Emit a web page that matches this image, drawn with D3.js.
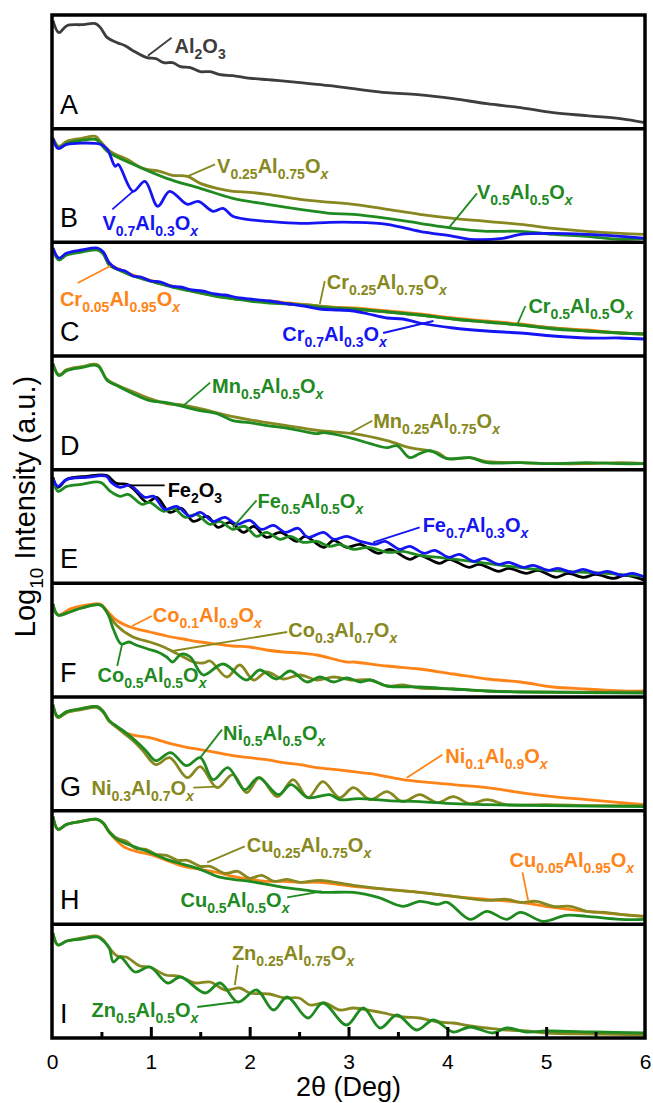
<!DOCTYPE html>
<html>
<head>
<meta charset="utf-8">
<script src="https://cdn.jsdelivr.net/npm/d3@7"></script>
<style>
body{margin:0;background:#fff}
text{font-family:"Liberation Sans",Arial,sans-serif}
</style>
</head>
<body>
<svg id="chart" width="653" height="1103"></svg>
<script>
// ---- data: [2theta (deg), log intensity (a.u., height above panel floor)] ----
const al2o3 = [[0.01,108],[0.07,96],[0.15,103],[0.30,104],[0.44,105],[0.49,101],[0.56,91],[0.66,86],[0.74,83],[0.82,78],[0.96,71],[1.05,70],[1.13,66],[1.22,66],[1.30,62],[1.40,61],[1.50,57],[1.60,57],[1.70,54],[1.83,53],[1.95,51],[2.05,50],[2.18,49],[2.30,48],[2.51,46],[2.81,43],[3.05,40],[3.39,36],[3.70,34],[4.06,30],[4.40,25],[4.74,21],[5.07,16],[5.41,13],[5.75,10],[6.0,6]];

const v25 = [[0.01,104],[0.07,96],[0.15,101],[0.30,104],[0.44,106],[0.49,101],[0.59,91],[0.76,83],[0.92,74],[1.09,71],[1.22,67],[1.37,66],[1.50,59],[1.67,54],[1.83,51],[2.00,50],[2.18,48],[2.51,43],[2.71,41],[3.05,38],[3.39,33],[3.72,28],[4.06,24],[4.40,21],[4.74,18],[5.07,14],[5.41,11],[5.75,9],[6.0,8]];
const v50 = [[0.01,104],[0.07,94],[0.15,99],[0.30,102],[0.44,103],[0.49,99],[0.56,91],[0.82,78],[1.16,64],[1.50,54],[1.83,44],[2.18,38],[2.51,33],[2.81,29],[3.05,28],[3.39,24],[3.72,19],[4.06,14],[4.40,11],[4.74,11],[5.07,8],[5.41,6],[5.75,3],[6.0,4]];
const v70 = [[0.01,104],[0.06,94],[0.15,98],[0.44,99],[0.49,98],[0.56,93],[0.64,76],[0.67,78],[0.82,51],[0.94,61],[1.07,36],[1.19,51],[1.37,38],[1.48,41],[1.63,31],[1.73,34],[1.83,26],[1.97,23],[2.18,21],[2.51,19],[2.81,20],[3.05,20],[3.39,18],[3.72,11],[4.06,6],[4.23,3],[4.56,4],[4.74,8],[5.07,9],[5.41,8],[5.75,6],[6.0,4]];

const cr05 = [[0.01,107],[0.07,97],[0.15,102],[0.30,105],[0.46,107],[0.52,103],[0.58,92],[0.70,86],[0.82,81],[0.95,77],[1.10,73],[1.25,69],[1.40,66],[1.55,63],[1.70,60],[1.85,58],[2.00,56],[2.20,55],[2.40,53],[2.60,51],[2.80,49],[3.05,48],[3.40,45],[3.72,42],[4.06,38],[4.40,35],[4.74,32],[5.07,28],[5.41,26],[5.75,23],[6.0,22]];
const cr25 = [[0.01,107],[0.07,97],[0.15,102],[0.30,105],[0.46,106],[0.52,102],[0.58,91],[0.70,85],[0.82,80],[0.95,77],[1.10,72],[1.25,69],[1.40,65],[1.55,62],[1.70,60],[1.85,57],[2.00,56],[2.20,54],[2.40,52],[2.60,51],[2.80,49],[3.05,47],[3.40,44],[3.72,41],[4.06,37],[4.40,34],[4.74,31],[5.07,28],[5.41,25],[5.75,23],[6.0,22]];
const cr50 = [[0.01,106],[0.07,96],[0.15,101],[0.30,104],[0.46,106],[0.52,102],[0.58,91],[0.70,85],[0.82,80],[0.95,76],[1.10,72],[1.25,68],[1.40,65],[1.55,62],[1.70,59],[1.85,57],[2.00,55],[2.20,53],[2.40,52],[2.60,50],[2.80,48],[3.05,47],[3.40,44],[3.72,41],[4.06,37],[4.40,34],[4.74,31],[5.07,27],[5.41,25],[5.75,23],[6.0,22]];
const cr70 = [[0.01,108],[0.07,98],[0.15,103],[0.30,106],[0.46,108],[0.52,104],[0.58,93],[0.66,87],[0.74,85],[0.82,80],[0.90,79],[1.00,75],[1.10,74],[1.20,70],[1.30,69],[1.42,66],[1.52,65],[1.65,62],[1.75,61],[1.90,58],[2.00,57],[2.20,55],[2.40,52],[2.55,50],[2.71,47],[2.90,46],[3.05,45],[3.20,42],[3.39,38],[3.55,37],[3.72,33],[4.06,28],[4.40,25],[4.74,23],[5.07,20],[5.41,18],[5.75,18],[6.0,17]];

const mn25 = [[0.01,106],[0.07,95],[0.15,100],[0.30,103],[0.46,105],[0.56,90],[0.82,78],[0.99,71],[1.16,66],[1.30,65],[1.50,61],[1.83,53],[2.18,47],[2.51,42],[2.71,39],[3.05,36],[3.39,29],[3.62,22],[3.90,17],[4.00,11],[4.23,12],[4.40,8],[4.74,7],[5.07,6],[5.41,6],[5.75,7],[6.0,6]];
const mn50 = [[0.01,106],[0.07,94],[0.15,99],[0.30,102],[0.46,104],[0.56,89],[0.66,84],[0.82,76],[0.99,69],[1.16,67],[1.37,62],[1.50,59],[1.67,56],[1.83,49],[2.00,47],[2.18,44],[2.34,42],[2.51,39],[2.68,36],[2.75,37],[3.05,31],[3.22,26],[3.39,22],[3.49,24],[3.62,12],[3.72,16],[3.82,19],[4.00,11],[4.23,12],[4.40,7],[4.74,7],[5.07,6],[5.41,7],[5.75,6],[6.0,6]];

const fe2o3 = [[0.01,106],[0.06,96],[0.15,104],[0.35,107],[0.55,108],[0.65,100],[0.76,99],[0.84,93],[0.96,81],[1.06,86],[1.19,71],[1.31,75],[1.43,62],[1.57,67],[1.68,56],[1.80,61],[1.94,51],[2.04,57],[2.17,46],[2.31,51],[2.48,42],[2.56,47],[2.75,36],[2.85,43],[2.98,36],[3.12,39],[3.30,30],[3.42,34],[3.62,24],[3.72,28],[3.92,20],[4.02,24],[4.22,16],[4.32,19],[4.52,12],[4.62,15],[4.80,10],[4.92,13],[5.10,6],[5.22,10],[5.38,6],[5.50,9],[5.68,5],[5.80,8],[6.0,3]];
const fe50 = [[0.01,104],[0.06,92],[0.15,97],[0.30,99],[0.49,101],[0.59,92],[0.69,87],[0.77,89],[0.91,79],[0.99,81],[1.13,72],[1.23,75],[1.35,66],[1.46,69],[1.60,59],[1.70,62],[1.83,54],[1.95,57],[2.07,47],[2.17,51],[2.31,44],[2.41,47],[2.54,41],[2.68,42],[2.81,37],[2.91,39],[3.05,34],[3.20,36],[3.40,31],[3.55,32],[3.72,28],[4.00,25],[4.40,20],[4.80,15],[5.20,12],[5.60,10],[6.0,7]];
const fe70 = [[0.01,104],[0.06,97],[0.15,104],[0.35,106],[0.55,107],[0.60,101],[0.69,96],[0.79,98],[0.94,86],[1.03,87],[1.14,74],[1.26,77],[1.40,67],[1.50,71],[1.63,62],[1.75,66],[1.87,59],[2.00,63],[2.12,54],[2.24,58],[2.36,51],[2.49,55],[2.59,46],[2.75,51],[2.85,44],[2.98,47],[3.12,42],[3.27,39],[3.37,42],[3.52,34],[3.62,37],[3.77,30],[3.87,33],[4.02,26],[4.12,29],[4.27,22],[4.37,25],[4.52,19],[4.62,21],[4.77,16],[4.87,18],[5.02,13],[5.12,15],[5.27,11],[5.37,14],[5.52,10],[5.62,12],[5.77,8],[5.87,10],[6.0,6]];

const co10 = [[0.01,93],[0.06,82],[0.18,88],[0.30,91],[0.49,93],[0.55,87],[0.65,77],[0.79,70],[0.99,65],[1.16,61],[1.33,58],[1.50,55],[1.67,53],[1.83,51],[2.00,50],[2.17,47],[2.34,45],[2.51,44],[2.68,42],[2.98,35],[3.05,35],[3.39,31],[3.72,28],[4.06,23],[4.40,18],[4.74,15],[5.07,10],[5.41,8],[5.75,6],[6.0,6]];
const co30 = [[0.01,93],[0.06,82],[0.18,85],[0.30,89],[0.49,92],[0.57,83],[0.65,72],[0.82,60],[0.99,55],[1.13,50],[1.23,45],[1.33,40],[1.43,35],[1.53,34],[1.60,36],[1.77,20],[1.90,32],[2.04,17],[2.17,25],[2.34,18],[2.51,22],[2.68,17],[2.85,20],[3.02,17],[3.22,17],[3.39,11],[3.55,12],[3.72,9],[4.06,8],[4.40,6],[5.0,5],[6.0,5]];
const co50 = [[0.01,93],[0.06,82],[0.18,85],[0.30,89],[0.49,92],[0.57,82],[0.62,68],[0.70,53],[0.78,55],[0.85,52],[0.97,48],[1.07,45],[1.16,40],[1.22,35],[1.31,43],[1.40,40],[1.53,22],[1.73,33],[1.97,17],[2.10,27],[2.27,18],[2.41,26],[2.58,15],[2.71,20],[2.85,15],[2.98,19],[3.12,15],[3.22,17],[3.39,11],[3.72,10],[4.06,8],[4.40,6],[4.74,5],[6.0,4]];

const ni10 = [[0.01,106],[0.06,94],[0.15,99],[0.30,102],[0.46,104],[0.52,99],[0.58,90],[0.72,79],[0.85,75],[0.99,73],[1.16,68],[1.33,64],[1.50,61],[1.67,58],[1.83,55],[2.00,53],[2.17,51],[2.34,48],[2.51,46],[2.68,43],[2.88,41],[3.05,39],[3.22,37],[3.39,34],[3.55,31],[3.72,29],[4.06,26],[4.40,23],[4.74,18],[5.07,14],[5.41,11],[5.75,8],[6.0,6]];
const ni30 = [[0.01,105],[0.06,93],[0.15,98],[0.30,101],[0.46,103],[0.52,98],[0.58,89],[0.66,83],[0.72,78],[0.82,70],[0.92,60],[1.05,46],[1.19,53],[1.37,33],[1.50,44],[1.67,23],[1.83,36],[1.97,18],[2.10,33],[2.28,14],[2.44,31],[2.59,13],[2.74,29],[2.91,13],[3.05,23],[3.22,11],[3.39,19],[3.55,9],[3.72,16],[3.90,8],[4.06,14],[4.23,7],[4.40,11],[4.60,6],[5.0,6],[5.5,5],[6.0,5]];
const ni50 = [[0.01,106],[0.06,94],[0.15,99],[0.30,102],[0.46,104],[0.52,99],[0.58,90],[0.66,84],[0.72,80],[0.82,72],[0.95,60],[1.05,50],[1.20,58],[1.36,45],[1.50,53],[1.63,31],[1.78,43],[1.95,21],[2.09,33],[2.29,16],[2.42,26],[2.59,13],[2.81,16],[2.91,11],[3.10,12],[3.40,10],[3.72,9],[4.06,7],[4.40,6],[5.0,5],[6.0,4]];

const cu05 = [[0.01,108],[0.06,95],[0.15,100],[0.30,103],[0.46,105],[0.52,101],[0.58,92],[0.72,78],[0.85,73],[0.99,70],[1.16,64],[1.33,58],[1.50,55],[1.67,52],[1.83,48],[2.00,45],[2.17,43],[2.34,43],[2.51,42],[2.71,42],[3.05,38],[3.39,35],[3.72,32],[4.06,28],[4.40,25],[4.74,22],[5.07,17],[5.41,13],[5.75,10],[6.0,8]];
const cu25 = [[0.01,107],[0.06,95],[0.15,100],[0.30,103],[0.46,105],[0.52,101],[0.58,93],[0.66,86],[0.75,83],[0.85,76],[0.95,75],[1.05,70],[1.16,69],[1.27,64],[1.37,64],[1.50,58],[1.60,58],[1.75,51],[1.88,53],[2.00,46],[2.12,49],[2.25,43],[2.38,45],[2.51,42],[2.71,44],[3.05,39],[3.39,35],[3.72,32],[4.06,28],[4.40,24],[4.60,25],[4.74,22],[4.90,23],[5.07,18],[5.25,18],[5.41,13],[5.60,12],[5.75,10],[6.0,8]];
const cu50 = [[0.01,108],[0.06,95],[0.15,100],[0.30,103],[0.46,105],[0.52,101],[0.58,92],[0.66,85],[0.82,78],[0.99,72],[1.16,65],[1.33,60],[1.50,55],[1.67,48],[1.83,45],[2.00,43],[2.18,40],[2.34,37],[2.51,35],[2.73,32],[3.05,32],[3.30,27],[3.55,18],[3.72,23],[3.90,20],[4.00,22],[4.23,5],[4.40,13],[4.60,5],[4.74,12],[4.97,3],[5.20,9],[5.41,8],[5.75,5],[6.0,5]];

const zn25 = [[0.01,105],[0.06,93],[0.15,97],[0.30,100],[0.46,102],[0.52,98],[0.58,90],[0.66,82],[0.75,81],[0.89,72],[0.99,71],[1.15,63],[1.28,62],[1.45,55],[1.60,56],[1.75,48],[1.90,50],[2.00,45],[2.20,44],[2.35,40],[2.50,40],[2.61,33],[2.76,35],[2.91,28],[3.05,30],[3.25,27],[3.40,24],[3.55,21],[3.72,20],[3.90,16],[4.06,15],[4.23,12],[4.40,10],[4.60,8],[4.80,7],[5.0,5],[5.5,4],[6.0,3]];
const zn50 = [[0.01,105],[0.06,93],[0.15,97],[0.30,99],[0.46,101],[0.52,97],[0.58,90],[0.62,76],[0.69,81],[0.84,66],[0.99,71],[1.17,55],[1.30,61],[1.55,45],[1.70,55],[1.88,36],[2.07,48],[2.24,28],[2.38,41],[2.59,20],[2.74,35],[2.98,13],[3.15,30],[3.32,10],[3.49,23],[3.69,8],[3.86,18],[4.06,6],[4.23,11],[4.46,5],[4.60,10],[4.80,6],[5.0,7],[5.5,6],[6.0,5]];

const panelNames = ["A","B","C","D","E","F","G","H","I"];
const xTicks = [0,1,2,3,4,5,6];
const xMinor = [0.5,1.5,2.5,3.5,4.5,5.5];

const GRAY="#3d3d3d", OLIVE="#888820", GREEN="#1f8a1f", BLUE="#1515f2", ORANGE="#ff8418", BLACK="#000";

// which curves go in which panel (drawn in this order)
const panels = [
  [{d:al2o3,c:GRAY}],
  [{d:v25,c:OLIVE},{d:v50,c:GREEN},{d:v70,c:BLUE}],
  [{d:cr05,c:ORANGE},{d:cr25,c:OLIVE},{d:cr50,c:GREEN},{d:cr70,c:BLUE}],
  [{d:mn25,c:OLIVE},{d:mn50,c:GREEN}],
  [{d:fe2o3,c:BLACK},{d:fe50,c:GREEN},{d:fe70,c:BLUE}],
  [{d:co10,c:ORANGE},{d:co30,c:OLIVE},{d:co50,c:GREEN}],
  [{d:ni10,c:ORANGE},{d:ni30,c:OLIVE},{d:ni50,c:GREEN}],
  [{d:cu05,c:ORANGE},{d:cu25,c:OLIVE},{d:cu50,c:GREEN}],
  [{d:zn25,c:OLIVE},{d:zn50,c:GREEN}]
];

// labels: panel, formula, colour, text anchor, leader from/to (data units)
const notes = [
  {p:0,t:"Al_{2}O_{3}",c:GRAY,at:[1.24,76],a:[1.21,91],b:[0.97,73]},
  {p:1,t:"V_{0.25}Al_{0.75}O_{x}",c:OLIVE,at:[1.67,69],a:[1.65,78],b:[1.37,66]},
  {p:1,t:"V_{0.7}Al_{0.3}O_{x}",c:BLUE,at:[0.51,12],a:[0.61,33],b:[0.82,51]},
  {p:1,t:"V_{0.5}Al_{0.5}O_{x}",c:GREEN,at:[4.30,43],a:[4.30,49],b:[4.01,14]},
  {p:2,t:"Cr_{0.05}Al_{0.95}O_{x}",c:ORANGE,at:[0.08,50],a:[0.26,73],b:[0.59,90]},
  {p:2,t:"Cr_{0.25}Al_{0.75}O_{x}",c:OLIVE,at:[2.78,67],a:[2.76,75],b:[2.71,52]},
  {p:2,t:"Cr_{0.7}Al_{0.3}O_{x}",c:BLUE,at:[2.33,15],a:[3.35,23],b:[3.86,35]},
  {p:2,t:"Cr_{0.5}Al_{0.5}O_{x}",c:GREEN,at:[4.82,43],a:[4.79,50],b:[4.71,32]},
  {p:3,t:"Mn_{0.5}Al_{0.5}O_{x}",c:GREEN,at:[1.62,77],a:[1.60,87],b:[1.33,64]},
  {p:3,t:"Mn_{0.25}Al_{0.75}O_{x}",c:OLIVE,at:[3.25,42],a:[3.24,49],b:[3.00,36]},
  {p:4,t:"Fe_{2}O_{3}",c:BLACK,at:[1.17,86],a:[1.14,98],b:[0.79,98]},
  {p:4,t:"Fe_{0.5}Al_{0.5}O_{x}",c:GREEN,at:[2.08,75],a:[2.07,83],b:[1.83,56]},
  {p:4,t:"Fe_{0.7}Al_{0.3}O_{x}",c:BLUE,at:[3.75,51],a:[3.72,56],b:[3.25,41]},
  {p:5,t:"Co_{0.1}Al_{0.9}O_{x}",c:ORANGE,at:[1.02,75],a:[1.01,81],b:[0.81,71]},
  {p:5,t:"Co_{0.3}Al_{0.7}O_{x}",c:OLIVE,at:[2.39,60],a:[2.38,65],b:[1.22,46]},
  {p:5,t:"Co_{0.5}Al_{0.5}O_{x}",c:GREEN,at:[0.46,15],a:[0.66,31],b:[0.71,53]},
  {p:6,t:"Ni_{0.5}Al_{0.5}O_{x}",c:GREEN,at:[1.73,71],a:[1.72,81],b:[1.50,53]},
  {p:6,t:"Ni_{0.3}Al_{0.7}O_{x}",c:OLIVE,at:[0.40,16],a:[1.43,23],b:[1.67,24]},
  {p:6,t:"Ni_{0.1}Al_{0.9}O_{x}",c:ORANGE,at:[3.98,48],a:[3.95,56],b:[3.59,33]},
  {p:7,t:"Cu_{0.25}Al_{0.75}O_{x}",c:OLIVE,at:[1.97,72],a:[1.95,78],b:[1.57,62]},
  {p:7,t:"Cu_{0.5}Al_{0.5}O_{x}",c:GREEN,at:[1.30,17],a:[2.38,27],b:[2.73,33]},
  {p:7,t:"Cu_{0.05}Al_{0.95}O_{x}",c:ORANGE,at:[4.63,57],a:[4.76,52],b:[4.82,23]},
  {p:8,t:"Zn_{0.25}Al_{0.75}O_{x}",c:OLIVE,at:[1.82,78],a:[1.88,73],b:[1.85,53]},
  {p:8,t:"Zn_{0.5}Al_{0.5}O_{x}",c:GREEN,at:[0.40,21],a:[1.47,31],b:[1.87,36]}
];

// ---- layout ----
const plotLeft=52, plotRight=645, plotTop=15, plotBottom=1038;
const ph=(plotBottom-plotTop)/panelNames.length;
const svg=d3.select("#chart");
const x=d3.scaleLinear().domain([0,6]).range([plotLeft,plotRight]);

svg.append("defs").append("clipPath").attr("id","clip")
  .append("rect").attr("x",plotLeft).attr("y",plotTop).attr("width",plotRight-plotLeft).attr("height",plotBottom-plotTop);

function formula(sel,str){
  const re=/([^_]+)|_\{([^}]*)\}/g; let m, low=false;
  while((m=re.exec(str))){
    if(m[1]!==undefined){
      sel.append("tspan").attr("dy",low?-6:0).text(m[1]); low=false;
    } else {
      const s=sel.append("tspan").attr("dy",low?0:6).attr("font-size",14).text(m[2]);
      if(m[2]==="x") s.attr("font-style","italic");
      low=true;
    }
  }
}

panels.forEach(function(series,i){
  const y0=plotTop+i*ph;
  const y=d3.scaleLinear().domain([0,ph]).range([y0+ph,y0]);
  const line=d3.line().x(d=>x(d[0])).y(d=>y(d[1])).curve(d3.curveCatmullRom.alpha(0.5));
  const g=svg.append("g").attr("clip-path","url(#clip)");
  series.forEach(function(s){
    g.append("path").attr("d",line(s.d)).attr("fill","none")
      .attr("stroke",s.c).attr("stroke-width",2.8).attr("stroke-linejoin","round");
  });
  // panel letter
  svg.append("text").attr("x",plotLeft+8).attr("y",y0+ph-15)
    .attr("font-size",27).attr("fill","#000").text(panelNames[i]);
  // annotations
  notes.filter(n=>n.p===i).forEach(function(n){
    svg.append("line").attr("x1",x(n.a[0])).attr("y1",y(n.a[1]))
      .attr("x2",x(n.b[0])).attr("y2",y(n.b[1]))
      .attr("stroke",n.c).attr("stroke-width",1.8);
    const t=svg.append("text").attr("x",x(n.at[0])).attr("y",y(n.at[1]))
      .attr("font-size",20).attr("font-weight","bold").attr("fill",n.c);
    formula(t,n.t);
  });
  if(i>0){
    svg.append("line").attr("x1",plotLeft).attr("x2",plotRight).attr("y1",y0).attr("y2",y0)
      .attr("stroke","#000").attr("stroke-width",3.5);
  }
});

// frame
svg.append("rect").attr("x",plotLeft).attr("y",plotTop).attr("width",plotRight-plotLeft).attr("height",plotBottom-plotTop)
  .attr("fill","none").attr("stroke","#000").attr("stroke-width",3.5);

// ticks
const ax=svg.append("g").attr("transform","translate(0,"+plotBottom+")");
ax.call(d3.axisBottom(x).tickValues([1,2,3,4,5]).tickSizeInner(-11).tickSizeOuter(0).tickFormat(""));
ax.append("g").call(d3.axisBottom(x).tickValues(xMinor).tickSizeInner(-6).tickSizeOuter(0).tickFormat(""));
ax.selectAll(".domain").remove();
ax.selectAll(".tick line").attr("stroke","#000").attr("stroke-width",3);

const lab=svg.append("g").attr("transform","translate(0,"+plotBottom+")")
  .call(d3.axisBottom(x).tickValues(xTicks).tickSize(0).tickPadding(16).tickFormat(d3.format("d")));
lab.select(".domain").remove();
lab.selectAll("text").attr("font-size",21).attr("fill","#000")
  .attr("font-family","'Liberation Sans',Arial,sans-serif");

svg.append("text").attr("x",(plotLeft+plotRight)/2).attr("y",1096).attr("text-anchor","middle")
  .attr("font-size",27).text("2θ (Deg)");

const yl=svg.append("text").attr("transform","translate(35,"+((plotTop+plotBottom)/2-20)+") rotate(-90)")
  .attr("text-anchor","middle").attr("font-size",29);
yl.append("tspan").text("Log");
yl.append("tspan").attr("dy",8).attr("font-size",19).text("10");
yl.append("tspan").attr("dy",-8).text(" Intensity (a.u.)");
</script>
</body>
</html>
